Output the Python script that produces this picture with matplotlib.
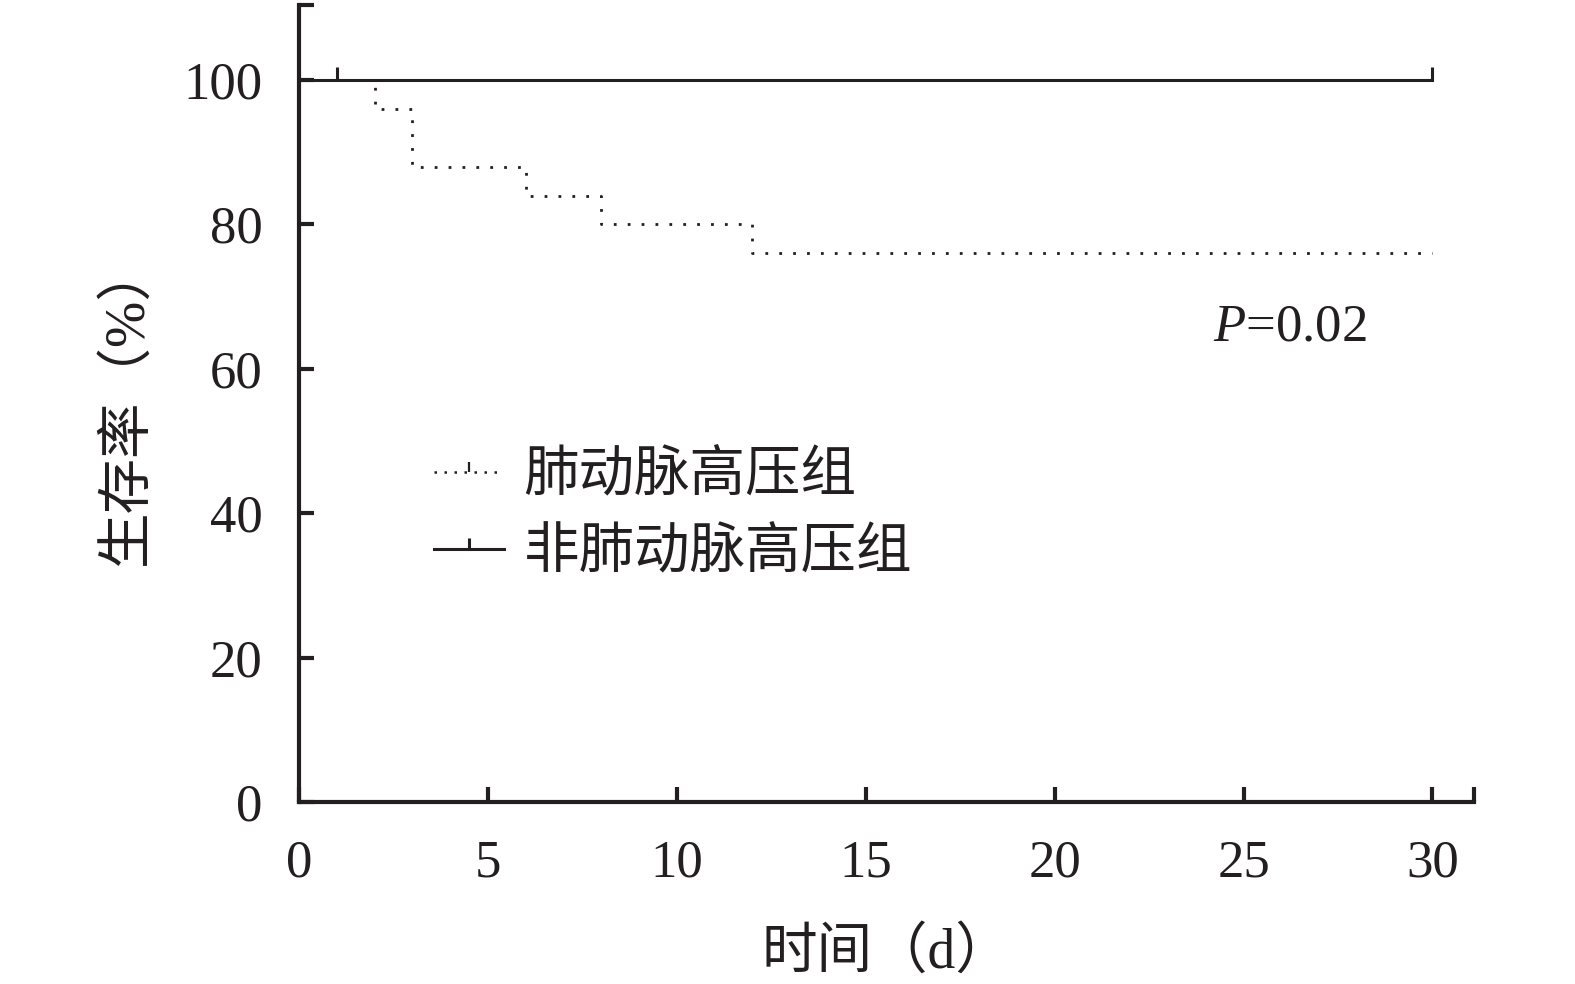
#used imports
from matplotlib import pyplot as plt
from matplotlib.lines import Line2D
from matplotlib.path import Path

#font list: serif for latin, CJK fallback for chinese text
plt.rcParams['font.family'] = ['Liberation Serif', 'Noto Sans CJK SC']
plt.rcParams['mathtext.fontset'] = 'custom'
plt.rcParams['mathtext.it'] = 'Liberation Serif:italic'
plt.rcParams['mathtext.rm'] = 'Liberation Serif'

#survival data (days, percent)
pah_days = [0, 2, 3, 6, 8, 12, 30]
pah_surv = [100, 96, 88, 84, 80, 76, 76]
non_days = [0, 30]
non_surv = [100, 100]
censor_days = [1, 30]
censor_surv = [100, 100]

labels = ["肺动脉高压组", "非肺动脉高压组"]
x_ticks = [0, 5, 10, 15, 20, 25, 30]
y_ticks = [0, 20, 40, 60, 80, 100]
x_end = 31.1
y_end = 110.4

#upward censor tick marker
up_tick = Path([(0, 0), (0, 1)], [Path.MOVETO, Path.LINETO])
ink = '#231f20'

fig = plt.figure(figsize=(15.75, 9.84), dpi=100)
ax = fig.add_axes([0.1898, 0.185, 0.7461, 0.81])

ax.step(pah_days, pah_surv, where='post', color=ink, lw=2.0, linestyle=(0, (1, 4)))
ax.plot(non_days, non_surv, color=ink, lw=2.2)
ax.plot(censor_days, censor_surv, linestyle='none', marker=up_tick, markersize=19,
        markeredgewidth=2.2, color=ink)

ax.set_xlim(0, x_end)
ax.set_ylim(0, y_end)
for s in ['top', 'right']:
    ax.spines[s].set_visible(False)
for s in ['left', 'bottom']:
    ax.spines[s].set_linewidth(3)
    ax.spines[s].set_color(ink)

ax.set_xticks(x_ticks + [x_end])
ax.set_xticklabels([str(v) for v in x_ticks] + [''])
ax.set_yticks(y_ticks + [y_end])
ax.set_yticklabels([str(v) for v in y_ticks] + [''])
ax.tick_params(direction='in', length=11, width=3, color=ink, labelsize=38,
               labelcolor=ink)
ax.tick_params(axis='x', pad=27)
ax.tick_params(axis='y', pad=26)

ax.set_xlabel("时间（d）", fontsize=40, color=ink, labelpad=28)
ax.set_ylabel("生存率（%）", fontsize=40, color=ink, labelpad=22)

ax.text(0.843, 0.595, "$P$=0.02", transform=ax.transAxes, fontsize=38, color=ink,
        ha='center', va='center')

handles = [Line2D([], [], color=ink, lw=1.8, linestyle=(0, (1, 3)),
                  marker=up_tick, markersize=14, markeredgewidth=1.6, markevery=[1]),
           Line2D([], [], color=ink, lw=2.2,
                  marker=up_tick, markersize=16, markeredgewidth=2.2, markevery=[1])]
for h in handles:
    h.set_xdata([0, 0.5, 1])
    h.set_ydata([0, 0, 0])
leg = ax.legend(handles, labels, loc='center left', bbox_to_anchor=(0.072, 0.359),
                frameon=False, fontsize=40, handlelength=1.26, handletextpad=0.36,
                labelspacing=0.45)
for t in leg.get_texts():
    t.set_color(ink)

plt.savefig('out.png', dpi=100)
